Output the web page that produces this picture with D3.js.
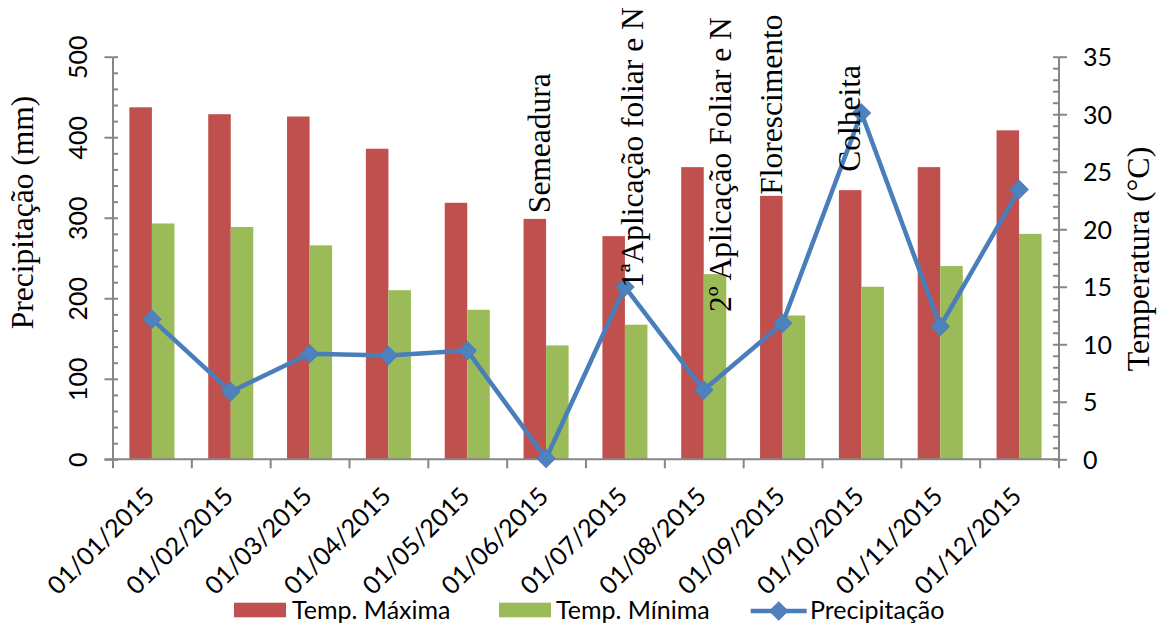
<!DOCTYPE html>
<html>
<head>
<meta charset="utf-8">
<script src="https://cdn.jsdelivr.net/npm/d3@7"></script>
<style>
  html, body { margin: 0; padding: 0; background: #fff; }
  svg { display: block; }
</style>
</head>
<body>
<svg id="chart" width="1161" height="630"></svg>
<script>
// ---------------- DATA ----------------
const categories = ["01/01/2015","01/02/2015","01/03/2015","01/04/2015","01/05/2015","01/06/2015",
                    "01/07/2015","01/08/2015","01/09/2015","01/10/2015","01/11/2015","01/12/2015"];
const tempMax = [30.6, 30.0, 29.8, 27.0, 22.3, 20.9, 19.4, 25.4, 22.9, 23.4, 25.4, 28.6];
const tempMin = [20.5, 20.2, 18.6, 14.7, 13.0, 9.9, 11.7, 16.1, 12.5, 15.0, 16.8, 19.6];
const precip  = [174, 84, 131, 129, 135, 1, 214, 86, 169, 430, 165, 335];
const leftTicks  = [0, 100, 200, 300, 400, 500];
const rightTicks = [0, 5, 10, 15, 20, 25, 30, 35];
const seriesNames = ["Temp. Máxima", "Temp. Mínima", "Precipitação"];
const annotLabels = ["Semeadura", "1ªAplicação foliar e N", "2º Aplicação Foliar e N", "Florescimento", "Colheita"];
const annotCats   = ["01/06/2015", "01/07/2015", "01/08/2015", "01/09/2015", "01/10/2015"];
const annotTemps  = [21.4, 14.9, 12.8, 23.0, 25.0];   // where each label starts (°C scale)
const leftTitle = "Precipitação (mm)";
const rightTitle = "Temperatura (°C)";

// ---------------- LAYOUT ----------------
const colMax = "#C0504D", colMin = "#9BBB59", colLine = "#4A7EBB", colMarker = "#4F81BD";
const axisCol = "#868686";
const sans = "Lato, 'Open Sans', sans-serif";
const serif = "'Liberation Serif', 'Times New Roman', serif";
const sansSize = 25, serifSize = 31.5;
const left = 112.5, right = 1058.5, y0 = 459.3, yTop = 56.7;

const svg = d3.select("#chart");
svg.append("rect").attr("width", 1161).attr("height", 630).attr("fill", "#fff");

const x0 = d3.scaleBand().domain(categories).range([left, right]).paddingInner(0).paddingOuter(0);
const x1 = d3.scaleBand().domain(["max","min"]).range([0, x0.bandwidth()]).paddingInner(0).paddingOuter(0.75);
const xIdx = d3.scaleLinear().domain([0, categories.length]).range([left, right]);
const yL = d3.scaleLinear().domain([0, 500]).range([y0, yTop]);
const yR = d3.scaleLinear().domain([0, 35]).range([y0, yTop]);

// ---------------- BARS ----------------
const gBars = svg.append("g");
gBars.selectAll("rect.max").data(categories).join("rect")
  .attr("x", (c) => x0(c) + x1("max"))
  .attr("y", (c, i) => yR(tempMax[i]))
  .attr("width", x1.bandwidth())
  .attr("height", (c, i) => yR(0) - yR(tempMax[i]))
  .attr("fill", colMax);
gBars.selectAll("rect.min").data(categories).join("rect")
  .attr("x", (c) => x0(c) + x1("min"))
  .attr("y", (c, i) => yR(tempMin[i]))
  .attr("width", x1.bandwidth())
  .attr("height", (c, i) => yR(0) - yR(tempMin[i]))
  .attr("fill", colMin);

// ---------------- AXES ----------------
function styleAxis(g) {
  g.selectAll("path.domain").attr("stroke", axisCol).attr("stroke-width", 2);
  g.selectAll(".tick line").attr("stroke", axisCol).attr("stroke-width", 2);
}
// X axis
const gx = svg.append("g").attr("transform", `translate(0,${y0})`)
  .call(d3.axisBottom(xIdx).tickValues(d3.range(categories.length + 1)).tickSize(9).tickSizeOuter(0).tickFormat(""));
styleAxis(gx);
gx.select("path.domain").attr("d", `M${left - 8},0H${right}`);

svg.append("g").selectAll("text").data(categories).join("text")
  .attr("transform", (c) => `translate(${x0(c) + x0.bandwidth() / 2 + 4},${498}) rotate(-45)`)
  .attr("text-anchor", "end")
  .attr("font-family", sans).attr("font-size", sansSize).attr("fill", "#000")
  .text((c) => c);

// Left axis
const gyL = svg.append("g").attr("transform", `translate(${left},0)`)
  .call(d3.axisLeft(yL).tickValues(leftTicks).tickSizeInner(8).tickSizeOuter(0));
styleAxis(gyL);
gyL.selectAll(".tick text")
  .attr("transform", "rotate(-90)").attr("x", 0).attr("y", -26).attr("dy", 0)
  .attr("text-anchor", "middle").attr("font-family", sans).attr("font-size", sansSize).attr("fill", "#000");
const gyLm = svg.append("g").attr("transform", `translate(${left},0)`)
  .call(d3.axisRight(yL).tickValues(d3.range(0, 501, 20)).tickSize(5.5).tickFormat(""));
styleAxis(gyLm); gyLm.select("path.domain").remove();

// Right axis
const gyR = svg.append("g").attr("transform", `translate(${right},0)`)
  .call(d3.axisRight(yR).tickValues(rightTicks).tickSizeInner(8.5).tickSizeOuter(0).tickPadding(16));
styleAxis(gyR);
gyR.selectAll(".tick text").attr("dy", "0.36em")
  .attr("font-family", sans).attr("font-size", sansSize).attr("fill", "#000");
const gyRm = svg.append("g").attr("transform", `translate(${right},0)`)
  .call(d3.axisLeft(yR).tickValues(d3.range(0, 36, 1)).tickSize(5.5).tickFormat(""));
styleAxis(gyRm); gyRm.select("path.domain").remove();

// Axis titles
svg.append("text").attr("transform", `translate(33,212.5) rotate(-90)`)
  .attr("text-anchor", "middle").attr("font-family", serif).attr("font-size", serifSize).attr("fill", "#000")
  .text(leftTitle);
svg.append("text").attr("transform", `translate(1148.5,259) rotate(-90)`)
  .attr("text-anchor", "middle").attr("font-family", serif).attr("font-size", 32).attr("fill", "#000")
  .text(rightTitle);

// ---------------- LINE ----------------
const cx = (c) => x0(c) + x0.bandwidth() / 2;
const line = d3.line().x((d) => cx(d.c)).y((d) => yL(d.v));
const pts = categories.map((c, i) => ({ c, v: precip[i] }));
svg.append("path").datum(pts).attr("d", line)
  .attr("fill", "none").attr("stroke", colLine).attr("stroke-width", 4.5).attr("stroke-linejoin", "round");
const diamond = d3.symbol().type(d3.symbolSquare).size(165);
svg.append("g").selectAll("path").data(pts).join("path")
  .attr("d", diamond)
  .attr("transform", (d) => `translate(${cx(d.c)},${yL(d.v)}) rotate(45)`)
  .attr("fill", colMarker).attr("stroke", colLine).attr("stroke-width", 1);

// ---------------- ANNOTATIONS ----------------
const annotDx = [4, 18, 27, -1, -1];
svg.append("g").selectAll("text").data(annotLabels).join("text")
  .attr("transform", (t, i) => `translate(${cx(annotCats[i]) + annotDx[i]},${yR(annotTemps[i])}) rotate(-90)`)
  .attr("text-anchor", "start").attr("font-family", serif).attr("font-size", serifSize).attr("fill", "#000")
  .text((t) => t);

// ---------------- LEGEND ----------------
const lg = svg.append("g");
const legX = [234, 499, 750.7];
lg.append("rect").attr("x", legX[0]).attr("y", 602.7).attr("width", 52).attr("height", 14.6).attr("fill", colMax);
lg.append("rect").attr("x", legX[1]).attr("y", 602.7).attr("width", 52).attr("height", 14.6).attr("fill", colMin);
lg.append("line").attr("x1", legX[2]).attr("x2", legX[2] + 56).attr("y1", 611).attr("y2", 611)
  .attr("stroke", colLine).attr("stroke-width", 4.5);
lg.append("path").attr("d", diamond).attr("transform", `translate(${legX[2] + 28},611) rotate(45)`)
  .attr("fill", colMarker).attr("stroke", colLine).attr("stroke-width", 1);
const legTextX = [292, 556, 810];
lg.selectAll("text").data(seriesNames).join("text")
  .attr("x", (d, i) => legTextX[i]).attr("y", 618.5)
  .attr("font-family", sans).attr("font-size", sansSize).attr("fill", "#000")
  .text((d) => d);
</script>
</body>
</html>
